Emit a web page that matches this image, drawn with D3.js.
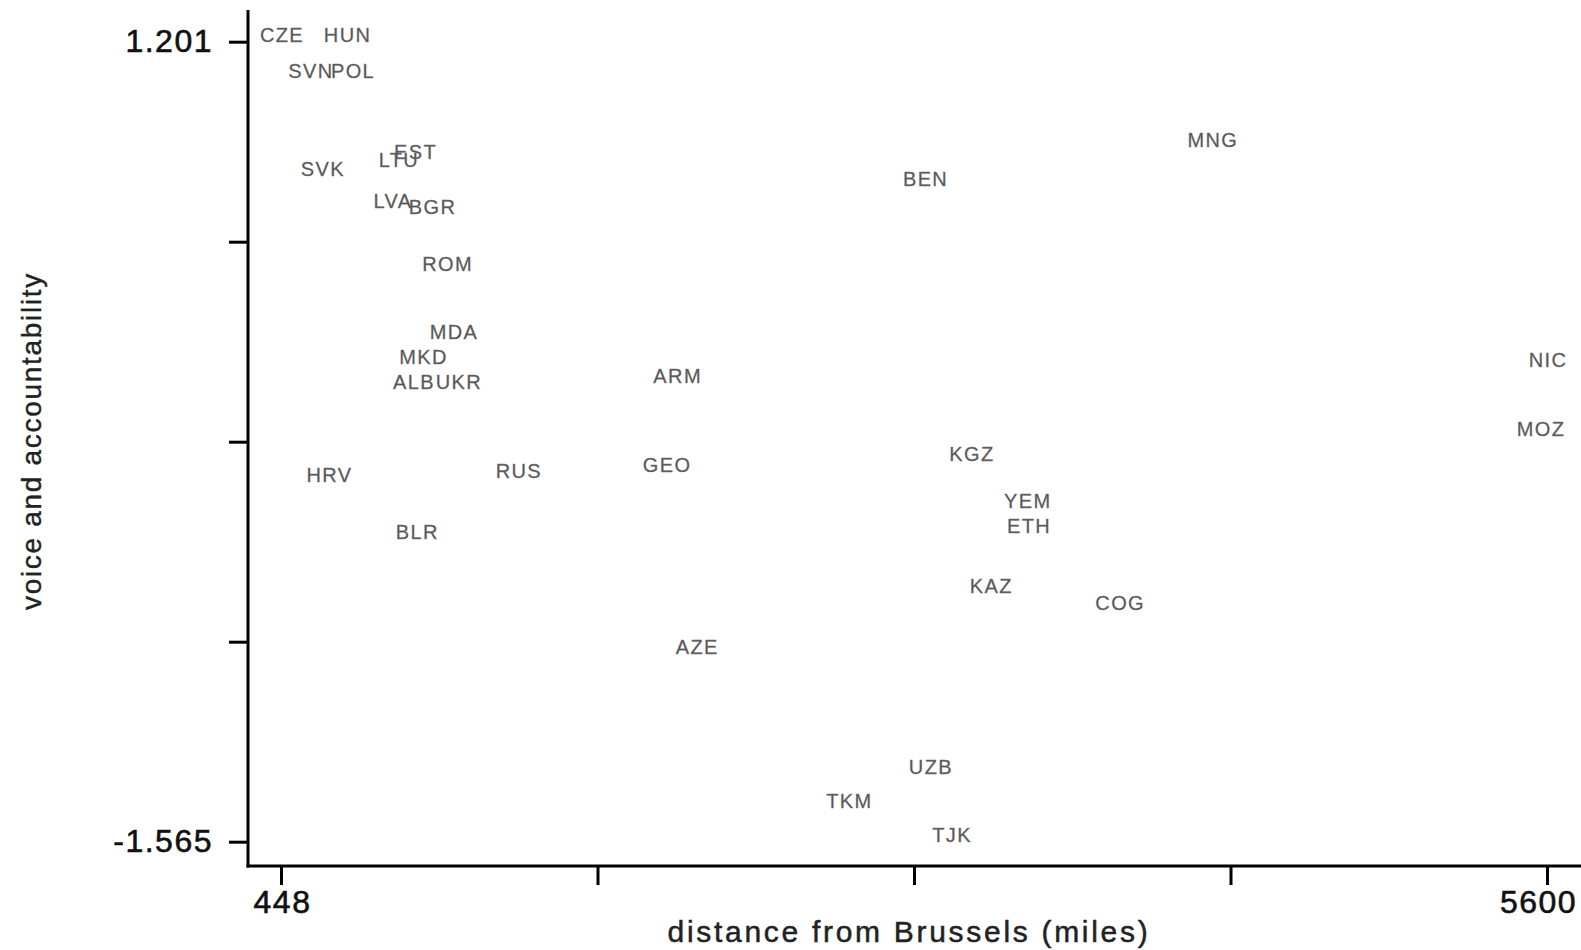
<!DOCTYPE html>
<html>
<head>
<meta charset="utf-8">
<script src="https://cdn.jsdelivr.net/npm/d3@7"></script>
<style>
  html, body { margin: 0; padding: 0; background: #fff; }
  svg { display: block; }
</style>
</head>
<body>
<svg id="chart" width="1581" height="950"></svg>
<script>
// ---- data ----
const countries = ["CZE","HUN","SVN","POL","SVK","LTU","EST","LVA","BGR","ROM","MDA","MKD","ALB","UKR","HRV","RUS","BLR","ARM","GEO","AZE","KGZ","YEM","ETH","KAZ","COG","UZB","TKM","TJK","MNG","BEN","NIC","MOZ"];
const distance = [448, 715, 566, 737, 614, 924, 992, 900, 1061, 1122, 1148, 1024, 985, 1168, 641, 1412, 999, 2058, 2015, 2138, 3256, 3483, 3488, 3335, 3859, 3089, 2757, 3175, 4236, 3067, 5600, 5572];
const voice = [1.201, 1.201, 1.074, 1.074, 0.738, 0.767, 0.794, 0.627, 0.604, 0.409, 0.172, 0.086, 0.0, 0.0, -0.322, -0.309, -0.519, 0.022, -0.286, -0.916, -0.249, -0.412, -0.497, -0.704, -0.764, -1.332, -1.447, -1.565, 0.838, 0.702, 0.077, -0.162];
const xTickLabels = ["448", "", "", "", "5600"];
const yTickLabels = ["-1.565", "", "", "", "1.201"];
const xTitle = "distance from Brussels (miles)";
const yTitle = "voice and accountability";

// ---- layout ----
const svg = d3.select("#chart");
const xMin = 448, xMax = 5600, yMin = -1.565, yMax = 1.201;
const x = d3.scaleLinear().domain([xMin, xMax]).range([281, 1547]);
const y = d3.scaleLinear().domain([yMin, yMax]).range([841.7, 41.7]);
const axisX = 248, axisY = 866;
const font = "'Liberation Sans', Arial, sans-serif";

const xTicks = d3.range(5).map(i => xMin + i * (xMax - xMin) / 4);
const yTicks = d3.range(5).map(i => yMin + i * (yMax - yMin) / 4);

// x axis
const gx = svg.append("g").attr("transform", `translate(0,${axisY})`)
  .call(d3.axisBottom(x).tickValues(xTicks).tickSize(19).tickPadding(5)
    .tickFormat((d, i) => xTickLabels[i]));
gx.select(".domain").remove();
gx.selectAll(".tick line").attr("stroke", "#000").attr("stroke-width", 3);
gx.selectAll(".tick text").attr("fill", "#111")
  .attr("stroke", "#111").attr("stroke-width", 0.6)
  .style("font-family", font)
  .style("font-size", "32px").style("letter-spacing", "1.5px")
  .attr("dx", (d, i) => i === 4 ? -9 : 1);

// y axis
const gy = svg.append("g").attr("transform", `translate(${axisX},0)`)
  .call(d3.axisLeft(y).tickValues(yTicks).tickSize(19).tickPadding(16)
    .tickFormat((d, i) => yTickLabels[i]));
gy.select(".domain").remove();
gy.selectAll(".tick line").attr("stroke", "#000").attr("stroke-width", 3);
gy.selectAll(".tick text").attr("fill", "#111")
  .attr("stroke", "#111").attr("stroke-width", 0.6)
  .style("font-family", font)
  .style("font-size", "32px").style("letter-spacing", "1.5px");

// frame lines
svg.append("line").attr("x1", axisX).attr("x2", axisX).attr("y1", 10).attr("y2", axisY + 1.5)
  .attr("stroke", "#000").attr("stroke-width", 3);
svg.append("line").attr("x1", axisX - 1.5).attr("x2", 1581).attr("y1", axisY).attr("y2", axisY)
  .attr("stroke", "#000").attr("stroke-width", 3);

// country labels
const rows = countries.map((c, i) => ({ c, d: distance[i], v: voice[i] }));
svg.append("g").selectAll("text").data(rows).join("text")
  .attr("x", d => x(d.d) + 1)
  .attr("y", d => y(d.v))
  .attr("text-anchor", "middle")
  .attr("fill", "#555")
  .attr("stroke", "#777").attr("stroke-width", 0.3)
  .style("font-family", font)
  .style("font-size", "20px")
  .style("letter-spacing", "1.4px")
  .text(d => d.c);

// titles
svg.append("text").attr("x", 909).attr("y", 942).attr("text-anchor", "middle")
  .attr("fill", "#222").attr("stroke", "#222").attr("stroke-width", 0.5)
  .style("font-family", font)
  .style("font-size", "30px").style("letter-spacing", "2.7px")
  .text(xTitle);
svg.append("text").attr("transform", "translate(41,441) rotate(-90)").attr("text-anchor", "middle")
  .attr("fill", "#222").attr("stroke", "#222").attr("stroke-width", 0.4)
  .style("font-family", font)
  .style("font-size", "28px").style("letter-spacing", "1.7px")
  .text(yTitle);
</script>
</body>
</html>
